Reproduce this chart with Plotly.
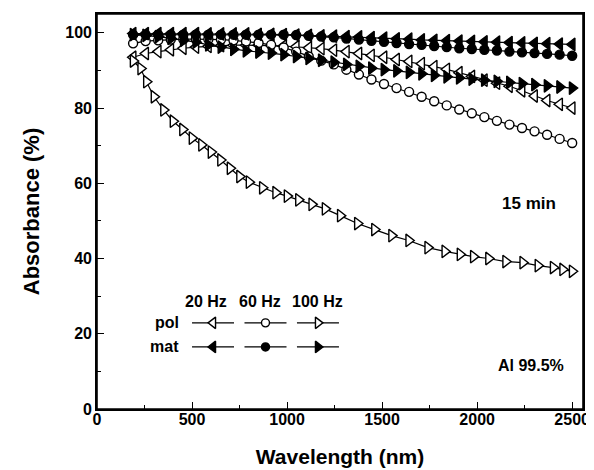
import plotly.graph_objects as go

# ---- data -------------------------------------------------------------
wl = [190, 256, 322, 388, 454, 520, 586, 652, 718, 784, 850, 916, 982, 1048,
      1114, 1180, 1246, 1312, 1378, 1444, 1510, 1576, 1642, 1708, 1774, 1840,
      1906, 1972, 2038, 2104, 2170, 2236, 2302, 2368, 2434, 2500]

pol_20 = [93.5, 94.5, 95.0, 95.5, 95.9, 96.2, 96.4, 96.6, 96.7, 96.7, 96.7, 96.6,
          96.5, 96.3, 96.0, 95.8, 95.4, 95.0, 94.5, 94.0, 93.5, 92.9, 92.4, 91.8,
          91.0, 90.3, 89.4, 88.4, 87.4, 86.6, 85.8, 84.6, 83.2, 82.0, 81.0, 80.0]
pol_60 = [97.2, 97.8, 98.0, 98.2, 98.3, 98.3, 98.3, 98.2, 98.0, 97.7, 97.3, 96.8,
          96.1, 95.0, 93.7, 92.6, 91.6, 90.2, 88.9, 87.6, 86.4, 85.3, 84.3, 83.0,
          81.8, 80.7, 79.6, 78.6, 77.6, 76.6, 75.6, 74.7, 73.8, 72.9, 71.8, 70.7]
mat_20 = [99.8, 99.8, 99.8, 99.8, 99.8, 99.8, 99.7, 99.7, 99.7, 99.7, 99.6, 99.6,
          99.5, 99.4, 99.3, 99.2, 99.1, 99.0, 98.9, 98.7, 98.6, 98.4, 98.3, 98.1,
          98.0, 97.9, 97.8, 97.7, 97.6, 97.5, 97.4, 97.3, 97.2, 97.1, 97.0, 96.9]
mat_60 = [99.5, 99.5, 99.5, 99.5, 99.5, 99.5, 99.5, 99.5, 99.5, 99.5, 99.5, 99.5,
          99.5, 99.4, 99.2, 99.0, 98.8, 98.5, 98.2, 97.9, 97.6, 97.3, 97.0, 96.8,
          96.5, 96.2, 95.9, 95.7, 95.5, 95.3, 95.0, 94.8, 94.6, 94.4, 94.2, 93.9]
mat_100 = [99.5, 99.3, 99.0, 98.5, 98.0, 97.5, 96.8, 96.2, 95.6, 95.2, 94.9, 94.6,
           94.2, 93.7, 93.2, 92.7, 92.2, 91.6, 91.1, 90.6, 90.2, 89.9, 89.5, 89.1,
           88.7, 88.3, 88.0, 87.7, 87.4, 87.1, 86.8, 86.5, 86.2, 85.9, 85.6, 85.3]

wl_pol100 = [190, 230, 260, 300, 350, 400, 450, 500, 550, 600, 650, 700, 750, 800,
             870, 940, 1000, 1060, 1130, 1200, 1280, 1370, 1460, 1550, 1640, 1740,
             1830, 1910, 1980, 2060, 2150, 2240, 2320, 2400, 2450, 2500]
pol_100 = [92.5, 90.5, 87.0, 83.0, 79.5, 76.5, 74.3, 72.0, 70.2, 68.3, 66.2, 64.0,
           61.8, 60.3, 58.8, 57.5, 56.6, 55.6, 54.4, 53.2, 51.4, 49.3, 47.7, 46.1,
           44.8, 42.9, 41.9, 41.1, 40.5, 40.0, 39.2, 38.9, 38.1, 37.6, 37.1, 36.6]

x_ticks = [0, 500, 1000, 1500, 2000, 2500]
y_ticks = [0, 20, 40, 60, 80, 100]

legend_cols = ["20 Hz", "60 Hz", "100 Hz"]
legend_rows = ["pol", "mat"]

FONT = "Arial, 'Liberation Sans', Helvetica, sans-serif"

series = [
    (wl, pol_20, "triangle-left", "white", 11),
    (wl, pol_60, "circle", "white", 9),
    (wl_pol100, pol_100, "triangle-right", "white", 11),
    (wl, mat_20, "triangle-left", "black", 11),
    (wl, mat_60, "circle", "black", 9),
    (wl, mat_100, "triangle-right", "black", 11),
]

fig = go.Figure()
for xs, ys, sym, fill, sz in series:
    fig.add_trace(go.Scatter(
        x=xs, y=ys, mode="lines+markers",
        line=dict(color="black", width=1.2),
        marker=dict(symbol=sym, size=sz, color=fill,
                    line=dict(color="black", width=1.4)),
        showlegend=False, cliponaxis=False))

# ---- hand-made legend key (placement in axis units) ---------------------
KEY_X0, KEY_DX, KEY_SEG = 500, 276, 221
KEY_ROW_Y = [22.9, 16.5]
KEY_HEAD_Y = 28.6
KEY_HEAD_X = [573, 855, 1161]
for ri, row in enumerate(legend_rows):
    yrow = KEY_ROW_Y[ri]
    for ci, col in enumerate(legend_cols):
        _, _, sym, fill, sz = series[ri * 3 + ci]
        xa = KEY_X0 + ci * KEY_DX
        fig.add_trace(go.Scatter(
            x=[xa, xa + KEY_SEG], y=[yrow, yrow], mode="lines",
            line=dict(color="black", width=1.2),
            showlegend=False, hoverinfo="skip"))
        fig.add_trace(go.Scatter(
            x=[xa + KEY_SEG / 2], y=[yrow], mode="markers",
            marker=dict(symbol=sym, size=sz - 1, color=fill,
                        line=dict(color="black", width=1.4)),
            showlegend=False, hoverinfo="skip"))
    fig.add_annotation(x=KEY_X0 - 60, y=yrow, text="<b>%s</b>" % row,
                       showarrow=False, xanchor="right", yanchor="middle",
                       font=dict(family=FONT, size=16, color="black"))

for ci, col in enumerate(legend_cols):
    fig.add_annotation(x=KEY_HEAD_X[ci], y=KEY_HEAD_Y, text="<b>%s</b>" % col,
                       showarrow=False, xanchor="center", yanchor="middle",
                       font=dict(family=FONT, size=16, color="black"))

fig.add_annotation(xref="paper", yref="paper", x=0.9486, y=0.52, text="<b>15 min</b>",
                   showarrow=False, xanchor="right", yanchor="middle",
                   font=dict(family=FONT, size=17, color="black"))
fig.add_annotation(xref="paper", yref="paper", x=0.965, y=0.11, text="<b>Al 99.5%</b>",
                   showarrow=False, xanchor="right", yanchor="middle",
                   font=dict(family=FONT, size=16, color="black"))

# frame around the plotting area
fig.add_shape(type="rect", xref="paper", yref="paper", x0=0, y0=0, x1=1, y1=1,
              line=dict(color="black", width=1.6), layer="above")

axis_common = dict(
    showline=True, linecolor="black", linewidth=1.6, mirror=True,
    ticks="inside", tickcolor="black", tickwidth=1.4, ticklen=7,
    showgrid=False, zeroline=False, automargin=False,
    tickfont=dict(family=FONT, size=16, color="black"),
)

# page body has an 8px margin, so the figure is shifted by 8px; compensate
fig.update_layout(
    width=586, height=462,
    margin=dict(l=89, r=11, t=6, b=61),
    paper_bgcolor="white", plot_bgcolor="white",
    xaxis=dict(range=[0, 2557], tickvals=x_ticks,
               ticktext=["<b>%d</b>" % v for v in x_ticks],
               ticklabelstandoff=-5,
               minor=dict(ticks="inside", ticklen=4, dtick=250, tick0=0,
                          tickcolor="black", tickwidth=1.4),
               title=dict(text="<b>Wavelength (nm)</b>", standoff=22,
                          font=dict(family=FONT, size=21, color="black")),
               **axis_common),
    yaxis=dict(range=[0, 105], tickvals=y_ticks,
               ticktext=["<b>%d</b>" % v for v in y_ticks],
               minor=dict(ticks="inside", ticklen=4, dtick=10, tick0=0,
                          tickcolor="black", tickwidth=1.4),
               title=dict(text="<b>Absorbance (%)</b>", standoff=20,
                          font=dict(family=FONT, size=22, color="black")),
               **axis_common),
)

fig.write_html("out.html")
